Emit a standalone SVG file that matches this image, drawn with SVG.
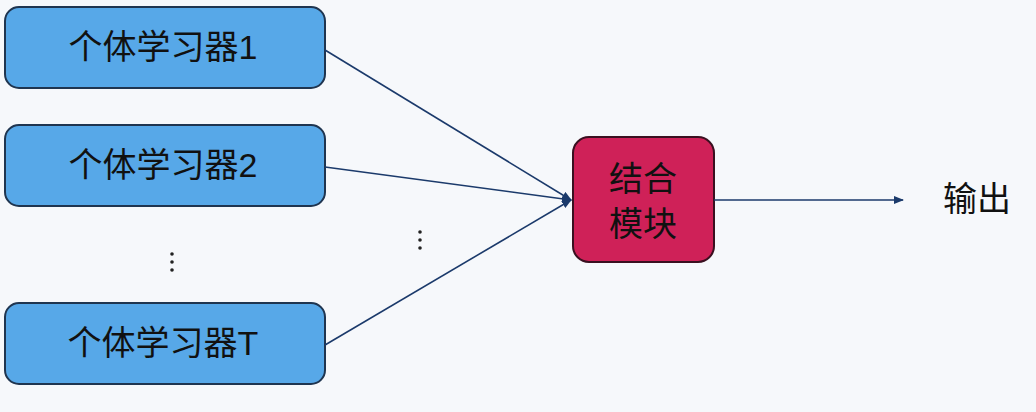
<svg xmlns="http://www.w3.org/2000/svg" width="1036" height="412" viewBox="0 0 1036 412">
<style>
.lb{fill:#57a8e8;stroke:#1f3550;stroke-width:2}
.t{font-family:"Liberation Sans","Noto Sans CJK SC",sans-serif;font-size:34px;fill:#111;text-anchor:middle;dominant-baseline:central}
.c{stroke:#1b3a6b;stroke-width:1.6;fill:none}
</style>
<defs><marker id="a" markerWidth="10" markerHeight="8" refX="9" refY="4" orient="auto" markerUnits="userSpaceOnUse"><path d="M0,0L10,4L0,8z" fill="#1b3a6b"/></marker></defs>
<rect width="1036" height="412" fill="#f6f8fb"/>
<g id="n1"><rect class="lb" x="5" y="7" width="320" height="81" rx="14"/><text class="t" x="163" y="47">个体学习器1</text></g>
<g id="n2"><rect class="lb" x="5" y="125" width="320" height="81" rx="14"/><text class="t" x="163" y="165">个体学习器2</text></g>
<g id="n3"><rect class="lb" x="5" y="303" width="320" height="81" rx="14"/><text class="t" x="163" y="343">个体学习器T</text></g>
<g id="comb"><rect x="573" y="137" width="141" height="125" rx="16" fill="#cf2158" stroke="#3a1020" stroke-width="2"/><text class="t" x="643" y="179">结合</text><text class="t" x="643" y="224">模块</text></g>
<g id="out"><text class="t" x="977" y="199">输出</text></g>
<g id="dots" fill="#222"><circle cx="172" cy="254" r="1.8"/><circle cx="172" cy="262" r="1.8"/><circle cx="172" cy="270" r="1.8"/><circle cx="420" cy="232" r="1.8"/><circle cx="420" cy="240" r="1.8"/><circle cx="420" cy="248" r="1.8"/></g>
<g id="connectors">
<path class="c" d="M325,50L571,200" marker-end="url(#a)"/>
<path class="c" d="M325,167L571,200" marker-end="url(#a)"/>
<path class="c" d="M325,345L571,200" marker-end="url(#a)"/>
<path class="c" d="M714,200L903,200" marker-end="url(#a)"/>
</g>
</svg>
